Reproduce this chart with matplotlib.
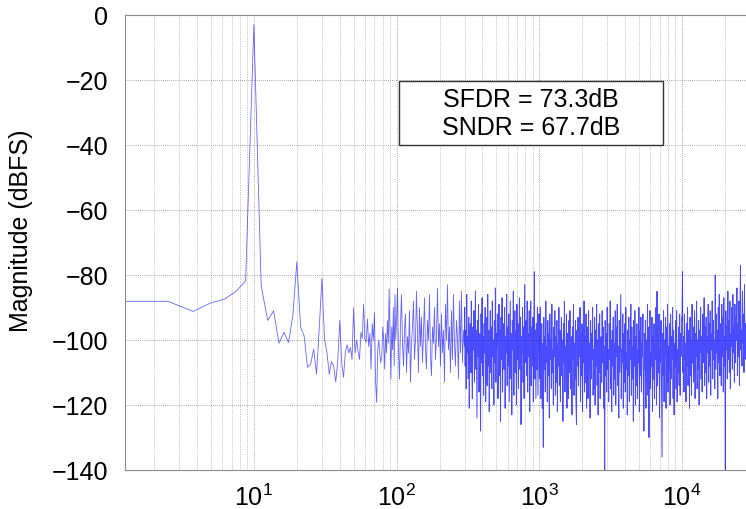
import numpy as np
import matplotlib
matplotlib.use('Agg')
import matplotlib.pyplot as plt
from matplotlib.patches import Rectangle

# FFT bins below 100 Hz (bin spacing 1.25 Hz), dBFS
mag_lo = [-88.1, -88.1, -91.2, -88.6, -87.4, -85.0, -81.8, -3.0, -83.3, -94.0,
          -91.0, -101.0, -97.6, -100.8, -92.5, -75.9, -96.0, -98.7, -108.4, -107.4,
          -102.8, -110.5, -96.0, -81.0, -99.7, -103.8, -110.5, -106.7, -107.9, -113.0,
          -106.0, -94.0, -107.0, -111.5, -103.8, -101.5, -104.0, -102.3, -106.0, -90.0,
          -104.0, -100.0, -103.5, -106.0, -97.6, -99.6, -89.0, -100.0, -100.7, -93.5,
          -102.0, -98.0, -109.0, -95.0, -100.0, -91.6, -113.0, -119.2, -103.0, -100.0,
          -104.0, -107.0, -105.0, -96.0, -100.0, -109.0, -98.0, -104.0, -94.0, -101.0,
          -84.3, -99.0, -112.0, -96.0, -103.0, -90.0, -108.0, -86.0, -100.0, -94.0]

# noise floor 100 - 300 Hz
mag_a = [-84, -104, -112, -95, -86, -101, -108, -97, -92, -110, -99, -104, -91, -113, -101, -96, -88, -106, -100, -85,
         -97, -110, -90, -102, -93, -107, -98, -87, -103, -109, -94, -100, -86, -105, -111, -96, -101, -90, -106, -99,
         -84, -102, -95, -108, -92, -104, -97, -113, -89, -100, -83, -103, -96, -110, -91, -106, -86, -101, -108, -94,
         -99, -112, -88, -104, -85, -107, -97, -102]

# noise floor 300 Hz - 1 kHz
mag_b = [-90, -108, -97, -115, -86, -104, -99, -112, -93, -121, -101, -95, -110, -88, -106, -118, -96, -103, -91, -113,
         -100, -85, -109, -97, -124, -94, -105, -89, -116, -102, -98, -128, -92, -107, -87, -111, -99, -117, -95, -104,
         -90, -119, -101, -93, -114, -86, -108, -97, -122, -103, -91, -110, -96, -115, -88, -105, -100, -120, -94, -107,
         -84, -113, -98, -102, -92, -118, -105, -89, -111, -97, -125, -93, -106, -87, -116, -101, -95, -109, -90, -121,
         -99, -104, -86, -114, -96, -108, -92, -119, -102, -88, -112, -98, -123, -94, -103, -85, -117, -100, -91, -110,
         -97, -120, -89, -106, -95, -115, -101, -87, -109, -93, -126, -99, -104, -90, -113, -96, -118, -83, -107, -102,
         -94, -111, -88, -116, -98, -105, -91, -122, -100, -88, -114, -96, -108, -93, -119, -101, -79, -112, -97, -118,
         -95, -109, -90, -117, -103, -92]

# noise floor 1 kHz - 10 kHz
mag_c = [-97, -112, -90, -118, -104, -95, -121, -101, -133, -93, -109, -99, -116, -88, -107, -102, -119, -94, -111, -98,
         -124, -92, -106, -100, -115, -89, -110, -103, -120, -96, -105, -91, -117, -99, -113, -94, -122, -101, -108, -90,
         -114, -97, -119, -104, -93, -111, -100, -125, -95, -107, -88, -116, -102, -109, -92, -121, -98, -104, -118, -94,
         -110, -91, -115, -103, -99, -123, -96, -106, -89, -117, -101, -112, -94, -120, -126, -97, -108, -93, -114, -100,
         -105, -90, -119, -98, -111, -95, -122, -102, -107, -88, -116, -99, -113, -92, -121, -104, -96, -118, -91, -109,
         -101, -124, -94, -112, -98, -106, -90, -117, -103, -115, -93, -120, -97, -108, -89, -114, -100, -123, -95, -110,
         -92, -118, -104, -99, -113, -91, -107, -96, -121, -102, -140, -94, -111, -98, -116, -90, -109, -103, -119, -95,
         -106, -88, -115, -100, -122, -97, -108, -93, -117, -101, -112, -91, -120, -96, -105, -89, -114, -102, -124, -94,
         -110, -99, -86, -118, -103, -107, -92, -121, -98, -113, -95, -116, -90, -109, -104, -123, -97, -111, -93, -119,
         -100, -106, -89, -117, -96, -112, -102, -125, -94, -108, -91, -120, -99, -114, -95, -118, -103, -107, -90, -122,
         -97, -111, -93, -116, -101, -105, -92, -119, -128, -98, -109, -94, -121, -100, -113, -89, -117, -96, -130, -102,
         -91, -115, -104, -108, -93, -122, -99, -112, -95, -118, -101, -106, -90, -120, -85, -114, -97, -110, -92, -124,
         -103, -107, -94, -117, -136, -98, -111, -91, -119, -100, -105, -93, -121, -96, -113, -89, -116, -102, -109, -95,
         -120, -92, -112, -99, -106, -90, -118, -97, -123, -101, -108, -94, -115, -91, -119, -103, -110, -96, -114, -92,
         -117, -98, -105, -93]

# noise floor 10 kHz - 28 kHz
mag_d = [-94, -79, -110, -99, -116, -92, -106, -101, -119, -95, -108, -90, -114, -103, -97, -121, -93, -111, -100, -117,
         -89, -107, -96, -113, -102, -91, -118, -98, -105, -88, -115, -100, -109, -94, -120, -97, -104, -90, -112, -99,
         -116, -92, -107, -101, -87, -114, -96, -110, -93, -118, -99, -104, -89, -113, -95, -108, -91, -117, -98, -103,
         -88, -112, -94, -106, -100, -115, -80, -109, -92, -104, -97, -118, -90, -107, -86, -111, -95, -101, -114, -89,
         -105, -93, -116, -87, -108, -99, -140, -91, -103, -96, -112, -85, -106, -94, -110, -88, -115, -98, -102, -90,
         -109, -86, -104, -96, -113, -89, -107, -93, -100, -84, -111, -95, -105, -88, -114, -91, -77, -103, -97, -108,
         -85, -101, -92, -110, -83, -106, -95, -100]

bin_hz = 1.25
f_max = 28100
f_lo = np.arange(1, len(mag_lo) + 1) * bin_hz
f_a = np.geomspace(101.5, 299, len(mag_a))
f_b = np.geomspace(300, 995, len(mag_b))
f_c = np.geomspace(1000, 9950, len(mag_c))
f_d = np.geomspace(10000, f_max, len(mag_d))

sfdr_txt = 'SFDR = 73.3dB'
sndr_txt = 'SNDR = 67.7dB'

plt.rcParams['font.family'] = ['Liberation Sans', 'DejaVu Sans']
plt.rcParams['font.size'] = 18
plt.rcParams.update({'mathtext.default': 'regular'})

fig = plt.figure(figsize=(7.46, 5.10), dpi=100)
ax = fig.add_axes([125/746, 1 - 471/510, 1 - 125/746, (471 - 16)/510])

# sparse part thin, dense part (many bins per pixel) over it
f_sparse = np.concatenate([f_lo, f_a, f_b[:1]])
m_sparse = np.concatenate([mag_lo, mag_a, mag_b[:1]])
f_dense = np.concatenate([f_b, f_c, f_d])
m_dense = np.concatenate([mag_b, mag_c, mag_d])
ax.plot(f_sparse, m_sparse, color='blue', lw=0.6, alpha=0.6)
ax.plot(f_dense, m_dense, color='blue', lw=0.7, alpha=0.7)

ax.set_xscale('log')
ax.set_xlim(bin_hz, f_max)
ax.set_ylim(-140, 0)
ax.set_yticks(np.arange(-140, 1, 20))
ax.set_xticks([10, 100, 1000, 10000])

ax.grid(True, which='major', color='0.55', ls=(0, (1, 1.5)), lw=0.6)
ax.grid(True, which='minor', axis='x', color='0.6', ls=(0, (1, 1.5)), lw=0.5)
ax.tick_params(which='both', direction='in', length=0, labelsize=18)
ax.tick_params(axis='x', pad=10)
ax.tick_params(axis='y', pad=12)

for s in ['left', 'bottom', 'top']:
    ax.spines[s].set_color('0.55')
ax.spines['right'].set_visible(False)

ax.set_ylabel('Magnitude (dBFS)', fontsize=18)
ax.yaxis.set_label_coords(-0.148, 0.527)

# result box
ax.add_patch(Rectangle((0.441, 0.714), 0.425, 0.141, transform=ax.transAxes,
                       facecolor='white', edgecolor='0.2', lw=1.0, zorder=5))
ax.text(0.654, 0.815, sfdr_txt, transform=ax.transAxes, ha='center', va='center', fontsize=18, zorder=6)
ax.text(0.654, 0.754, sndr_txt, transform=ax.transAxes, ha='center', va='center', fontsize=18, zorder=6)

fig.savefig('out.png', dpi=100)
